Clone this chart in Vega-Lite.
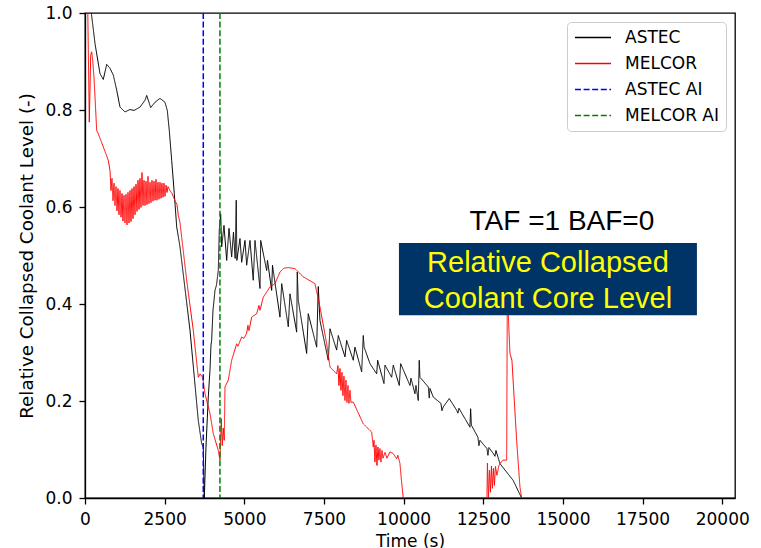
{
  "$schema": "https://vega.github.io/schema/vega-lite/v6.json",
  "width": 650,
  "height": 485,
  "autosize": "none",
  "padding": {"left": 85, "top": 13, "right": 26, "bottom": 50},
  "background": "white",
  "config": {
    "view": {"stroke": "black", "strokeWidth": 1.3},
    "font": "DejaVu Sans",
    "axis": {
      "labelFont": "DejaVu Sans", "titleFont": "DejaVu Sans",
      "labelFontSize": 17, "titleFontSize": 17, "titleFontWeight": "normal",
      "labelColor": "black", "titleColor": "black",
      "domainColor": "black", "tickColor": "black",
      "domainWidth": 1.3, "tickWidth": 1.3, "tickSize": 6, "grid": false
    },
    "axisX": {"labelPadding": 7, "titlePadding": 6},
    "axisY": {"labelPadding": 7, "titlePadding": 8, "titleFontSize": 18.3},
    "legend": {
      "orient": "top-right", "offset": 9, "padding": 7,
      "strokeColor": "#cccccc", "fillColor": "white", "cornerRadius": 4,
      "labelFont": "DejaVu Sans", "labelFontSize": 17, "labelColor": "black",
      "symbolType": "stroke", "symbolSize": 1296, "symbolStrokeWidth": 1.3,
      "labelOffset": 13, "rowPadding": 8, "clipHeight": 17
    }
  },
  "datasets": {
    "lines": [
      {"series":"ASTEC","time":141,"level":1.036},
      {"series":"ASTEC","time":188,"level":1.006},
      {"series":"ASTEC","time":314,"level":0.937},
      {"series":"ASTEC","time":471,"level":0.875},
      {"series":"ASTEC","time":574,"level":0.863},
      {"series":"ASTEC","time":681,"level":0.894},
      {"series":"ASTEC","time":785,"level":0.886},
      {"series":"ASTEC","time":888,"level":0.872},
      {"series":"ASTEC","time":995,"level":0.841},
      {"series":"ASTEC","time":1098,"level":0.806},
      {"series":"ASTEC","time":1255,"level":0.796},
      {"series":"ASTEC","time":1412,"level":0.801},
      {"series":"ASTEC","time":1538,"level":0.799},
      {"series":"ASTEC","time":1726,"level":0.806},
      {"series":"ASTEC","time":1883,"level":0.82},
      {"series":"ASTEC","time":1936,"level":0.83},
      {"series":"ASTEC","time":2062,"level":0.805},
      {"series":"ASTEC","time":2197,"level":0.816},
      {"series":"ASTEC","time":2354,"level":0.824},
      {"series":"ASTEC","time":2510,"level":0.816},
      {"series":"ASTEC","time":2583,"level":0.799},
      {"series":"ASTEC","time":2645,"level":0.758},
      {"series":"ASTEC","time":2721,"level":0.696},
      {"series":"ASTEC","time":2802,"level":0.628},
      {"series":"ASTEC","time":2878,"level":0.559},
      {"series":"ASTEC","time":2981,"level":0.518},
      {"series":"ASTEC","time":3295,"level":0.346},
      {"series":"ASTEC","time":3555,"level":0.16},
      {"series":"ASTEC","time":3662,"level":0.112},
      {"series":"ASTEC","time":3712,"level":0.105},
      {"series":"ASTEC","time":3744,"level":0.0},
      {"series":"ASTEC","time":3797,"level":0.105},
      {"series":"ASTEC","time":3869,"level":0.208},
      {"series":"ASTEC","time":3922,"level":0.263},
      {"series":"ASTEC","time":3954,"level":0.315},
      {"series":"ASTEC","time":3975,"level":0.325},
      {"series":"ASTEC","time":4017,"level":0.387},
      {"series":"ASTEC","time":4048,"level":0.407},
      {"series":"ASTEC","time":4079,"level":0.428},
      {"series":"ASTEC","time":4126,"level":0.439},
      {"series":"ASTEC","time":4183,"level":0.469},
      {"series":"ASTEC","time":4214,"level":0.552},
      {"series":"ASTEC","time":4258,"level":0.586},
      {"series":"ASTEC","time":4290,"level":0.518},
      {"series":"ASTEC","time":4362,"level":0.562},
      {"series":"ASTEC","time":4447,"level":0.49},
      {"series":"ASTEC","time":4519,"level":0.556},
      {"series":"ASTEC","time":4603,"level":0.497},
      {"series":"ASTEC","time":4660,"level":0.548},
      {"series":"ASTEC","time":4713,"level":0.494},
      {"series":"ASTEC","time":4747,"level":0.614},
      {"series":"ASTEC","time":4766,"level":0.49},
      {"series":"ASTEC","time":4864,"level":0.535},
      {"series":"ASTEC","time":4917,"level":0.486},
      {"series":"ASTEC","time":5021,"level":0.531},
      {"series":"ASTEC","time":5074,"level":0.48},
      {"series":"ASTEC","time":5178,"level":0.531},
      {"series":"ASTEC","time":5281,"level":0.449},
      {"series":"ASTEC","time":5335,"level":0.531},
      {"series":"ASTEC","time":5492,"level":0.432},
      {"series":"ASTEC","time":5514,"level":0.531},
      {"series":"ASTEC","time":5702,"level":0.469},
      {"series":"ASTEC","time":5727,"level":0.49},
      {"series":"ASTEC","time":5859,"level":0.428},
      {"series":"ASTEC","time":5884,"level":0.48},
      {"series":"ASTEC","time":6119,"level":0.373},
      {"series":"ASTEC","time":6173,"level":0.442},
      {"series":"ASTEC","time":6380,"level":0.353},
      {"series":"ASTEC","time":6433,"level":0.421},
      {"series":"ASTEC","time":6643,"level":0.342},
      {"series":"ASTEC","time":6662,"level":0.466},
      {"series":"ASTEC","time":6693,"level":0.408},
      {"series":"ASTEC","time":6957,"level":0.298},
      {"series":"ASTEC","time":7007,"level":0.38},
      {"series":"ASTEC","time":7271,"level":0.311},
      {"series":"ASTEC","time":7321,"level":0.436},
      {"series":"ASTEC","time":7374,"level":0.366},
      {"series":"ASTEC","time":7635,"level":0.284},
      {"series":"ASTEC","time":7688,"level":0.349},
      {"series":"ASTEC","time":7898,"level":0.305},
      {"series":"ASTEC","time":7949,"level":0.335},
      {"series":"ASTEC","time":8159,"level":0.291},
      {"series":"ASTEC","time":8212,"level":0.325},
      {"series":"ASTEC","time":8419,"level":0.284},
      {"series":"ASTEC","time":8473,"level":0.311},
      {"series":"ASTEC","time":8683,"level":0.26},
      {"series":"ASTEC","time":8733,"level":0.335},
      {"series":"ASTEC","time":8761,"level":0.311},
      {"series":"ASTEC","time":8943,"level":0.277},
      {"series":"ASTEC","time":9154,"level":0.256},
      {"series":"ASTEC","time":9185,"level":0.284},
      {"series":"ASTEC","time":9383,"level":0.236},
      {"series":"ASTEC","time":9414,"level":0.274},
      {"series":"ASTEC","time":9624,"level":0.249},
      {"series":"ASTEC","time":9675,"level":0.274},
      {"series":"ASTEC","time":9863,"level":0.232},
      {"series":"ASTEC","time":9907,"level":0.277},
      {"series":"ASTEC","time":10199,"level":0.232},
      {"series":"ASTEC","time":10230,"level":0.247},
      {"series":"ASTEC","time":10356,"level":0.215},
      {"series":"ASTEC","time":10387,"level":0.232},
      {"series":"ASTEC","time":10459,"level":0.201},
      {"series":"ASTEC","time":10490,"level":0.284},
      {"series":"ASTEC","time":10512,"level":0.249},
      {"series":"ASTEC","time":10773,"level":0.229},
      {"series":"ASTEC","time":10804,"level":0.206},
      {"series":"ASTEC","time":10826,"level":0.226},
      {"series":"ASTEC","time":10930,"level":0.208},
      {"series":"ASTEC","time":11171,"level":0.195},
      {"series":"ASTEC","time":11203,"level":0.18},
      {"series":"ASTEC","time":11244,"level":0.188},
      {"series":"ASTEC","time":11432,"level":0.205},
      {"series":"ASTEC","time":11664,"level":0.181},
      {"series":"ASTEC","time":11705,"level":0.175},
      {"series":"ASTEC","time":11736,"level":0.185},
      {"series":"ASTEC","time":12081,"level":0.146},
      {"series":"ASTEC","time":12103,"level":0.184},
      {"series":"ASTEC","time":12128,"level":0.15},
      {"series":"ASTEC","time":12333,"level":0.125},
      {"series":"ASTEC","time":12364,"level":0.108},
      {"series":"ASTEC","time":12395,"level":0.119},
      {"series":"ASTEC","time":12615,"level":0.102},
      {"series":"ASTEC","time":12646,"level":0.088},
      {"series":"ASTEC","time":12677,"level":0.104},
      {"series":"ASTEC","time":12812,"level":0.092},
      {"series":"ASTEC","time":12866,"level":0.086},
      {"series":"ASTEC","time":12897,"level":0.098},
      {"series":"ASTEC","time":13023,"level":0.071},
      {"series":"ASTEC","time":13440,"level":0.036},
      {"series":"ASTEC","time":13703,"level":0.0},

      {"series":"MELCOR","time":78,"level":1.047},
      {"series":"MELCOR","time":135,"level":0.775},
      {"series":"MELCOR","time":179,"level":0.913},
      {"series":"MELCOR","time":210,"level":0.92},
      {"series":"MELCOR","time":242,"level":0.902},
      {"series":"MELCOR","time":282,"level":0.868},
      {"series":"MELCOR","time":367,"level":0.758},
      {"series":"MELCOR","time":417,"level":0.751},
      {"series":"MELCOR","time":574,"level":0.724},
      {"series":"MELCOR","time":731,"level":0.696},
      {"series":"MELCOR","time":785,"level":0.675},
      {"series":"MELCOR","time":816,"level":0.634},
      {"series":"MELCOR","time":847,"level":0.659},
      {"series":"MELCOR","time":879,"level":0.613},
      {"series":"MELCOR","time":910,"level":0.649},
      {"series":"MELCOR","time":941,"level":0.603},
      {"series":"MELCOR","time":973,"level":0.642},
      {"series":"MELCOR","time":1004,"level":0.592},
      {"series":"MELCOR","time":1036,"level":0.638},
      {"series":"MELCOR","time":1067,"level":0.584},
      {"series":"MELCOR","time":1098,"level":0.634},
      {"series":"MELCOR","time":1130,"level":0.579},
      {"series":"MELCOR","time":1161,"level":0.628},
      {"series":"MELCOR","time":1192,"level":0.571},
      {"series":"MELCOR","time":1224,"level":0.624},
      {"series":"MELCOR","time":1255,"level":0.567},
      {"series":"MELCOR","time":1287,"level":0.626},
      {"series":"MELCOR","time":1318,"level":0.563},
      {"series":"MELCOR","time":1349,"level":0.63},
      {"series":"MELCOR","time":1381,"level":0.567},
      {"series":"MELCOR","time":1412,"level":0.634},
      {"series":"MELCOR","time":1443,"level":0.57},
      {"series":"MELCOR","time":1475,"level":0.638},
      {"series":"MELCOR","time":1506,"level":0.576},
      {"series":"MELCOR","time":1538,"level":0.642},
      {"series":"MELCOR","time":1569,"level":0.584},
      {"series":"MELCOR","time":1600,"level":0.647},
      {"series":"MELCOR","time":1632,"level":0.591},
      {"series":"MELCOR","time":1663,"level":0.655},
      {"series":"MELCOR","time":1695,"level":0.595},
      {"series":"MELCOR","time":1726,"level":0.659},
      {"series":"MELCOR","time":1757,"level":0.599},
      {"series":"MELCOR","time":1789,"level":0.671},
      {"series":"MELCOR","time":1820,"level":0.603},
      {"series":"MELCOR","time":1851,"level":0.655},
      {"series":"MELCOR","time":1883,"level":0.603},
      {"series":"MELCOR","time":1914,"level":0.653},
      {"series":"MELCOR","time":1946,"level":0.605},
      {"series":"MELCOR","time":1977,"level":0.663},
      {"series":"MELCOR","time":2008,"level":0.607},
      {"series":"MELCOR","time":2040,"level":0.651},
      {"series":"MELCOR","time":2071,"level":0.609},
      {"series":"MELCOR","time":2102,"level":0.655},
      {"series":"MELCOR","time":2134,"level":0.612},
      {"series":"MELCOR","time":2165,"level":0.653},
      {"series":"MELCOR","time":2197,"level":0.614},
      {"series":"MELCOR","time":2228,"level":0.657},
      {"series":"MELCOR","time":2259,"level":0.614},
      {"series":"MELCOR","time":2291,"level":0.651},
      {"series":"MELCOR","time":2322,"level":0.616},
      {"series":"MELCOR","time":2354,"level":0.651},
      {"series":"MELCOR","time":2385,"level":0.618},
      {"series":"MELCOR","time":2416,"level":0.649},
      {"series":"MELCOR","time":2448,"level":0.62},
      {"series":"MELCOR","time":2479,"level":0.649},
      {"series":"MELCOR","time":2510,"level":0.622},
      {"series":"MELCOR","time":2542,"level":0.645},
      {"series":"MELCOR","time":2573,"level":0.63},
      {"series":"MELCOR","time":2605,"level":0.642},
      {"series":"MELCOR","time":2667,"level":0.634},
      {"series":"MELCOR","time":2730,"level":0.628},
      {"series":"MELCOR","time":2824,"level":0.613},
      {"series":"MELCOR","time":2887,"level":0.605},
      {"series":"MELCOR","time":2928,"level":0.583},
      {"series":"MELCOR","time":2981,"level":0.568},
      {"series":"MELCOR","time":3191,"level":0.449},
      {"series":"MELCOR","time":3398,"level":0.346},
      {"series":"MELCOR","time":3555,"level":0.249},
      {"series":"MELCOR","time":3609,"level":0.256},
      {"series":"MELCOR","time":3693,"level":0.249},
      {"series":"MELCOR","time":3766,"level":0.215},
      {"series":"MELCOR","time":3923,"level":0.174},
      {"series":"MELCOR","time":4026,"level":0.133},
      {"series":"MELCOR","time":4183,"level":0.098},
      {"series":"MELCOR","time":4236,"level":0.078},
      {"series":"MELCOR","time":4277,"level":0.164},
      {"series":"MELCOR","time":4308,"level":0.108},
      {"series":"MELCOR","time":4340,"level":0.144},
      {"series":"MELCOR","time":4371,"level":0.119},
      {"series":"MELCOR","time":4393,"level":0.229},
      {"series":"MELCOR","time":4497,"level":0.243},
      {"series":"MELCOR","time":4603,"level":0.284},
      {"series":"MELCOR","time":4760,"level":0.318},
      {"series":"MELCOR","time":4801,"level":0.313},
      {"series":"MELCOR","time":4917,"level":0.332},
      {"series":"MELCOR","time":4989,"level":0.329},
      {"series":"MELCOR","time":5074,"level":0.34},
      {"series":"MELCOR","time":5115,"level":0.356},
      {"series":"MELCOR","time":5146,"level":0.345},
      {"series":"MELCOR","time":5231,"level":0.373},
      {"series":"MELCOR","time":5388,"level":0.38},
      {"series":"MELCOR","time":5460,"level":0.397},
      {"series":"MELCOR","time":5492,"level":0.387},
      {"series":"MELCOR","time":5595,"level":0.414},
      {"series":"MELCOR","time":5805,"level":0.435},
      {"series":"MELCOR","time":5962,"level":0.442},
      {"series":"MELCOR","time":6119,"level":0.466},
      {"series":"MELCOR","time":6245,"level":0.474},
      {"series":"MELCOR","time":6380,"level":0.475},
      {"series":"MELCOR","time":6590,"level":0.473},
      {"series":"MELCOR","time":6850,"level":0.456},
      {"series":"MELCOR","time":7217,"level":0.442},
      {"series":"MELCOR","time":7374,"level":0.394},
      {"series":"MELCOR","time":7585,"level":0.318},
      {"series":"MELCOR","time":7688,"level":0.27},
      {"series":"MELCOR","time":7898,"level":0.256},
      {"series":"MELCOR","time":7939,"level":0.273},
      {"series":"MELCOR","time":7970,"level":0.232},
      {"series":"MELCOR","time":8002,"level":0.267},
      {"series":"MELCOR","time":8033,"level":0.222},
      {"series":"MELCOR","time":8065,"level":0.259},
      {"series":"MELCOR","time":8096,"level":0.211},
      {"series":"MELCOR","time":8127,"level":0.251},
      {"series":"MELCOR","time":8159,"level":0.201},
      {"series":"MELCOR","time":8190,"level":0.243},
      {"series":"MELCOR","time":8222,"level":0.197},
      {"series":"MELCOR","time":8253,"level":0.232},
      {"series":"MELCOR","time":8284,"level":0.195},
      {"series":"MELCOR","time":8316,"level":0.222},
      {"series":"MELCOR","time":8347,"level":0.197},
      {"series":"MELCOR","time":8419,"level":0.198},
      {"series":"MELCOR","time":8733,"level":0.153},
      {"series":"MELCOR","time":8997,"level":0.136},
      {"series":"MELCOR","time":9047,"level":0.105},
      {"series":"MELCOR","time":9069,"level":0.119},
      {"series":"MELCOR","time":9100,"level":0.074},
      {"series":"MELCOR","time":9132,"level":0.109},
      {"series":"MELCOR","time":9163,"level":0.067},
      {"series":"MELCOR","time":9194,"level":0.105},
      {"series":"MELCOR","time":9226,"level":0.078},
      {"series":"MELCOR","time":9257,"level":0.102},
      {"series":"MELCOR","time":9288,"level":0.074},
      {"series":"MELCOR","time":9320,"level":0.098},
      {"series":"MELCOR","time":9351,"level":0.082},
      {"series":"MELCOR","time":9414,"level":0.094},
      {"series":"MELCOR","time":9477,"level":0.082},
      {"series":"MELCOR","time":9571,"level":0.095},
      {"series":"MELCOR","time":9665,"level":0.092},
      {"series":"MELCOR","time":9781,"level":0.081},
      {"series":"MELCOR","time":9822,"level":0.088},
      {"series":"MELCOR","time":9885,"level":0.071},
      {"series":"MELCOR","time":9932,"level":0.036},
      {"series":"MELCOR","time":9988,"level":0.0},
      {"series":"MELCOR","time":12615,"level":0.0},
      {"series":"MELCOR","time":12630,"level":0.072},
      {"series":"MELCOR","time":12662,"level":0.0},
      {"series":"MELCOR","time":12693,"level":0.057},
      {"series":"MELCOR","time":12725,"level":0.012},
      {"series":"MELCOR","time":12756,"level":0.066},
      {"series":"MELCOR","time":12787,"level":0.02},
      {"series":"MELCOR","time":12819,"level":0.061},
      {"series":"MELCOR","time":12850,"level":0.026},
      {"series":"MELCOR","time":12881,"level":0.065},
      {"series":"MELCOR","time":12929,"level":0.047},
      {"series":"MELCOR","time":12991,"level":0.067},
      {"series":"MELCOR","time":13023,"level":0.071},
      {"series":"MELCOR","time":13117,"level":0.078},
      {"series":"MELCOR","time":13233,"level":0.078},
      {"series":"MELCOR","time":13252,"level":0.377},
      {"series":"MELCOR","time":13274,"level":0.397},
      {"series":"MELCOR","time":13305,"level":0.346},
      {"series":"MELCOR","time":13337,"level":0.298},
      {"series":"MELCOR","time":13399,"level":0.284},
      {"series":"MELCOR","time":13547,"level":0.119},
      {"series":"MELCOR","time":13650,"level":0.023},
      {"series":"MELCOR","time":13703,"level":0.0}
    ],
    "rules": [
      {"series":"ASTEC AI","time":3712},
      {"series":"MELCOR AI","time":4235}
    ]
  },
  "layer": [
    {
      "data": {"name": "lines"},
      "mark": {"type": "line", "clip": true, "strokeWidth": 1},
      "encoding": {
        "x": {"field": "time", "type": "quantitative",
              "scale": {"domain": [0, 20400], "nice": false, "zero": false},
              "axis": {"title": "Time (s)", "values": [0,2500,5000,7500,10000,12500,15000,17500,20000], "format": "d", "labelFlush": false, "labelOverlap": false}},
        "y": {"field": "level", "type": "quantitative",
              "scale": {"domain": [0, 1], "nice": false},
              "axis": {"title": "Relative Collapsed Coolant Level (-)", "values": [0,0.2,0.4,0.6,0.8,1.0], "format": ".1f", "labelOverlap": false}},
        "color": {"field": "series", "type": "nominal",
                  "scale": {"domain": ["ASTEC","MELCOR","ASTEC AI","MELCOR AI"], "range": ["#000000","#ff0000","#0000ff","#008000"]},
                  "legend": {"title": null}},
        "strokeDash": {"field": "series", "type": "nominal",
                  "scale": {"domain": ["ASTEC","MELCOR","ASTEC AI","MELCOR AI"], "range": [[1,0],[1,0],[6,2.6],[6,2.6]]},
                  "legend": {"title": null}}
      }
    },
    {
      "data": {"name": "rules"},
      "mark": {"type": "rule", "strokeWidth": 1.5},
      "encoding": {
        "x": {"field": "time", "type": "quantitative"},
        "color": {"field": "series", "type": "nominal"},
        "strokeDash": {"field": "series", "type": "nominal"}
      }
    },
    {
      "data": {"values": [{}]},
      "mark": {"type": "rect", "fill": "#003366"},
      "encoding": {
        "x": {"datum": 9853, "type": "quantitative"},
        "x2": {"datum": 19205},
        "y": {"datum": 0.377, "type": "quantitative"},
        "y2": {"datum": 0.526}
      }
    },
    {
      "data": {"values": [{}]},
      "mark": {"type": "text", "text": "TAF =1 BAF=0", "font": "Liberation Sans", "fontSize": 28, "color": "black", "align": "center", "baseline": "alphabetic"},
      "encoding": {
        "x": {"datum": 14968, "type": "quantitative"},
        "y": {"datum": 0.553, "type": "quantitative"}
      }
    },
    {
      "data": {"values": [{}]},
      "mark": {"type": "text", "text": ["Relative Collapsed", "Coolant Core Level"], "lineHeight": 35.6, "font": "Liberation Sans", "fontSize": 29, "color": "#ffff00", "align": "center", "baseline": "alphabetic"},
      "encoding": {
        "x": {"datum": 14530, "type": "quantitative"},
        "y": {"datum": 0.466, "type": "quantitative"}
      }
    }
  ]
}
